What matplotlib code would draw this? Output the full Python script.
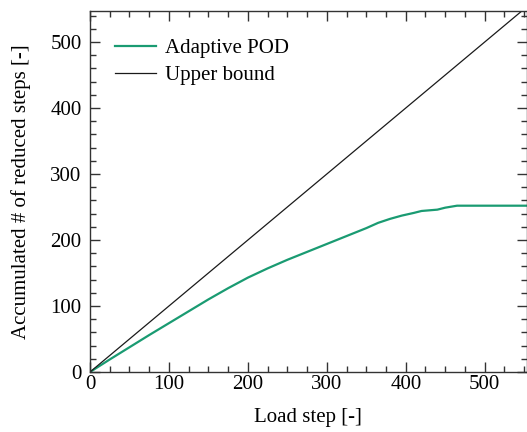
import matplotlib
matplotlib.use('Agg')
import matplotlib.pyplot as plt
import numpy as np
from matplotlib.ticker import MultipleLocator

plt.rcParams['font.family'] = ['Liberation Serif', 'DejaVu Serif']
plt.rcParams['mathtext.fontset'] = 'stix'

# green curve
load_step = [0, 25, 50, 75, 100, 125, 150, 175, 200, 225, 250, 275, 300, 325,
             350, 365, 380, 395, 410, 420, 440, 450, 465, 553]
reduced = [0, 19, 37.5, 56, 74, 92, 110, 127, 143, 157, 170, 182, 194, 206,
           218, 226, 232, 237, 241, 244, 246, 249, 252, 252]
bound = [0, 553]

fig = plt.figure(figsize=(5.27, 4.32), dpi=100)
ax = fig.add_axes([0.1708, 0.1389, 0.8283, 0.8356])

ax.plot(load_step, reduced, color='#1a9b72', lw=1.6, label='Adaptive POD')
ax.plot(bound, bound, color='#1a1a1a', lw=0.9, label='Upper bound')

ax.set_xlim(0, 553)
ax.set_ylim(0, 547)
ax.xaxis.set_major_locator(MultipleLocator(100))
ax.xaxis.set_minor_locator(MultipleLocator(25))
ax.yaxis.set_major_locator(MultipleLocator(100))
ax.yaxis.set_minor_locator(MultipleLocator(20))
ax.tick_params(which='both', direction='in', top=True, right=True,
               labelsize=15, color='#333333')
ax.tick_params(which='major', length=7, width=1.0)
ax.tick_params(which='minor', length=4.5, width=1.0)
ax.tick_params(axis='x', which='major', pad=2)
ax.tick_params(axis='y', which='major', pad=6)
for s in ax.spines.values():
    s.set_color('#333333')
    s.set_linewidth(1.0)

ax.set_xlabel('Load step [-]', fontsize=15, labelpad=10)
ax.set_ylabel('Accumulated # of reduced steps [-]', fontsize=15, labelpad=14)

ax.legend(loc='upper left', frameon=False, fontsize=15, handlelength=1.95,
          handletextpad=0.45, labelspacing=0.35, bbox_to_anchor=(0.015, 0.975))

fig.savefig('out.png', dpi=100)
